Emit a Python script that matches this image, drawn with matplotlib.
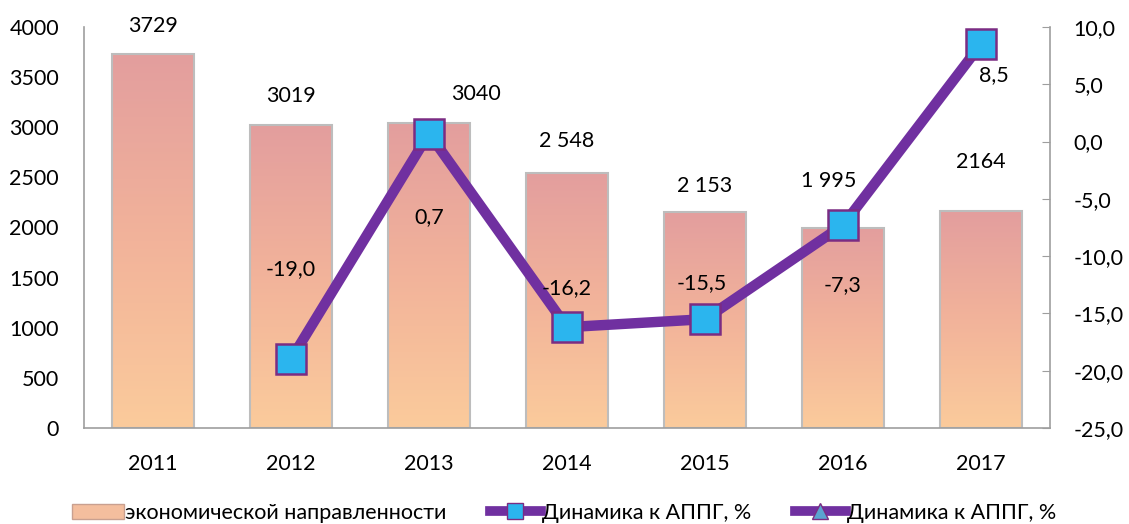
import numpy as np
import matplotlib
matplotlib.use("Agg")
import matplotlib.pyplot as plt
from matplotlib.lines import Line2D
from matplotlib.patches import Patch

plt.rcParams["font.family"] = ["Lato", "DejaVu Sans"]

years = ["2011", "2012", "2013", "2014", "2015", "2016", "2017"]
crimes = [3729, 3019, 3040, 2548, 2153, 1995, 2164]
crime_labels = ["3729", "3019", "3040", "2 548", "2 153", "1 995", "2164"]
dyn_years = ["2012", "2013", "2014", "2015", "2016", "2017"]
dynamics = [-19.0, 0.7, -16.2, -15.5, -7.3, 8.5]

# label offsets (points) relative to bar tops / markers
bar_off = [(0, 20), (0, 21), (34, 21), (0, 23), (0, 19), (-10, 34), (0, 35)]
dyn_off = [(0, 65), (0, -60), (0, 28), (-2, 26), (0, -43), (9, -22)]

FS = 15.5

fig = plt.figure(figsize=(11.29, 5.24), dpi=100)
ax = fig.add_axes([0.0744, 0.1832, 0.8556, 0.7653])
x = np.arange(len(years))

# bars with vertical pink->peach gradient
grad = np.linspace(0, 1, 256).reshape(-1, 1)
cmap = matplotlib.colors.LinearSegmentedColormap.from_list(
    "bar", ["#FBCB9C", "#F2B39A", "#E39E9E"])
bars = ax.bar(x, crimes, width=0.59, color="none", edgecolor="#BDBDBD",
              linewidth=1.5, zorder=2)
for b in bars:
    im = ax.imshow(grad, cmap=cmap, aspect="auto", origin="lower",
                   extent=[b.get_x(), b.get_x() + b.get_width(), 0, b.get_height()],
                   zorder=1)
    im.set_clip_path(b)
for i, (v, lab) in enumerate(zip(crimes, crime_labels)):
    ax.annotate(lab, (x[i], v), xytext=bar_off[i], textcoords="offset points",
                ha="center", va="center", fontsize=FS)

ax.set_xlim(-0.5, len(years) - 0.5)
ax.set_ylim(0, 4000)
ax.set_yticks(range(0, 4001, 500))
ax.set_xticks(x, years)
ax.tick_params(axis="y", length=0, pad=18, labelsize=FS)
ax.tick_params(axis="x", length=0, pad=19, labelsize=FS)
for s in ["top", "right"]:
    ax.spines[s].set_visible(False)
for s in ["left", "bottom"]:
    ax.spines[s].set_color("#9E9E9E")
    ax.spines[s].set_linewidth(1.2)

ax2 = ax.twinx()
xd = [years.index(y) for y in dyn_years]
ax2.plot(xd, dynamics, color="#7030A0", linewidth=7.5, solid_capstyle="round",
         marker="s", markersize=22, markerfacecolor="#2BB5EE",
         markeredgecolor="#7B2C83", markeredgewidth=1.8, zorder=5)
for i, v in enumerate(dynamics):
    ax2.annotate(f"{v:.1f}".replace(".", ","), (xd[i], v), xytext=dyn_off[i],
                 textcoords="offset points", ha="center", va="center",
                 fontsize=FS, zorder=6)
ax2.set_ylim(-25, 10)
ax2.set_yticks(np.arange(-25, 10.1, 5))
ax2.set_yticklabels([f"{t:.1f}".replace(".", ",") for t in np.arange(-25, 10.1, 5)])
ax2.tick_params(axis="y", direction="in", length=6, color="#9E9E9E",
                pad=17, labelsize=FS)
for s in ["top", "left", "bottom"]:
    ax2.spines[s].set_visible(False)
ax2.spines["right"].set_color("#9E9E9E")
ax2.spines["right"].set_linewidth(1.2)

handles = [
    Patch(facecolor="#F4BE9E", edgecolor="#C9A090"),
    Line2D([], [], color="#7030A0", linewidth=7, marker="s", markersize=11,
           markerfacecolor="#2BB5EE", markeredgecolor="#7B2C83"),
    Line2D([], [], color="#7030A0", linewidth=7, marker="^", markersize=12,
           markerfacecolor="#5BA3D0", markeredgecolor="#7B2C83"),
]
fig.legend(handles, ["экономической направленности", "Динамика к АППГ, %",
                     "Динамика к АППГ, %"],
           loc="lower center", bbox_to_anchor=(0.5, -0.035), ncol=3,
           frameon=False, fontsize=FS, handlelength=2.4, handletextpad=0.05,
           columnspacing=2.0)

fig.savefig("out.png", dpi=100)
